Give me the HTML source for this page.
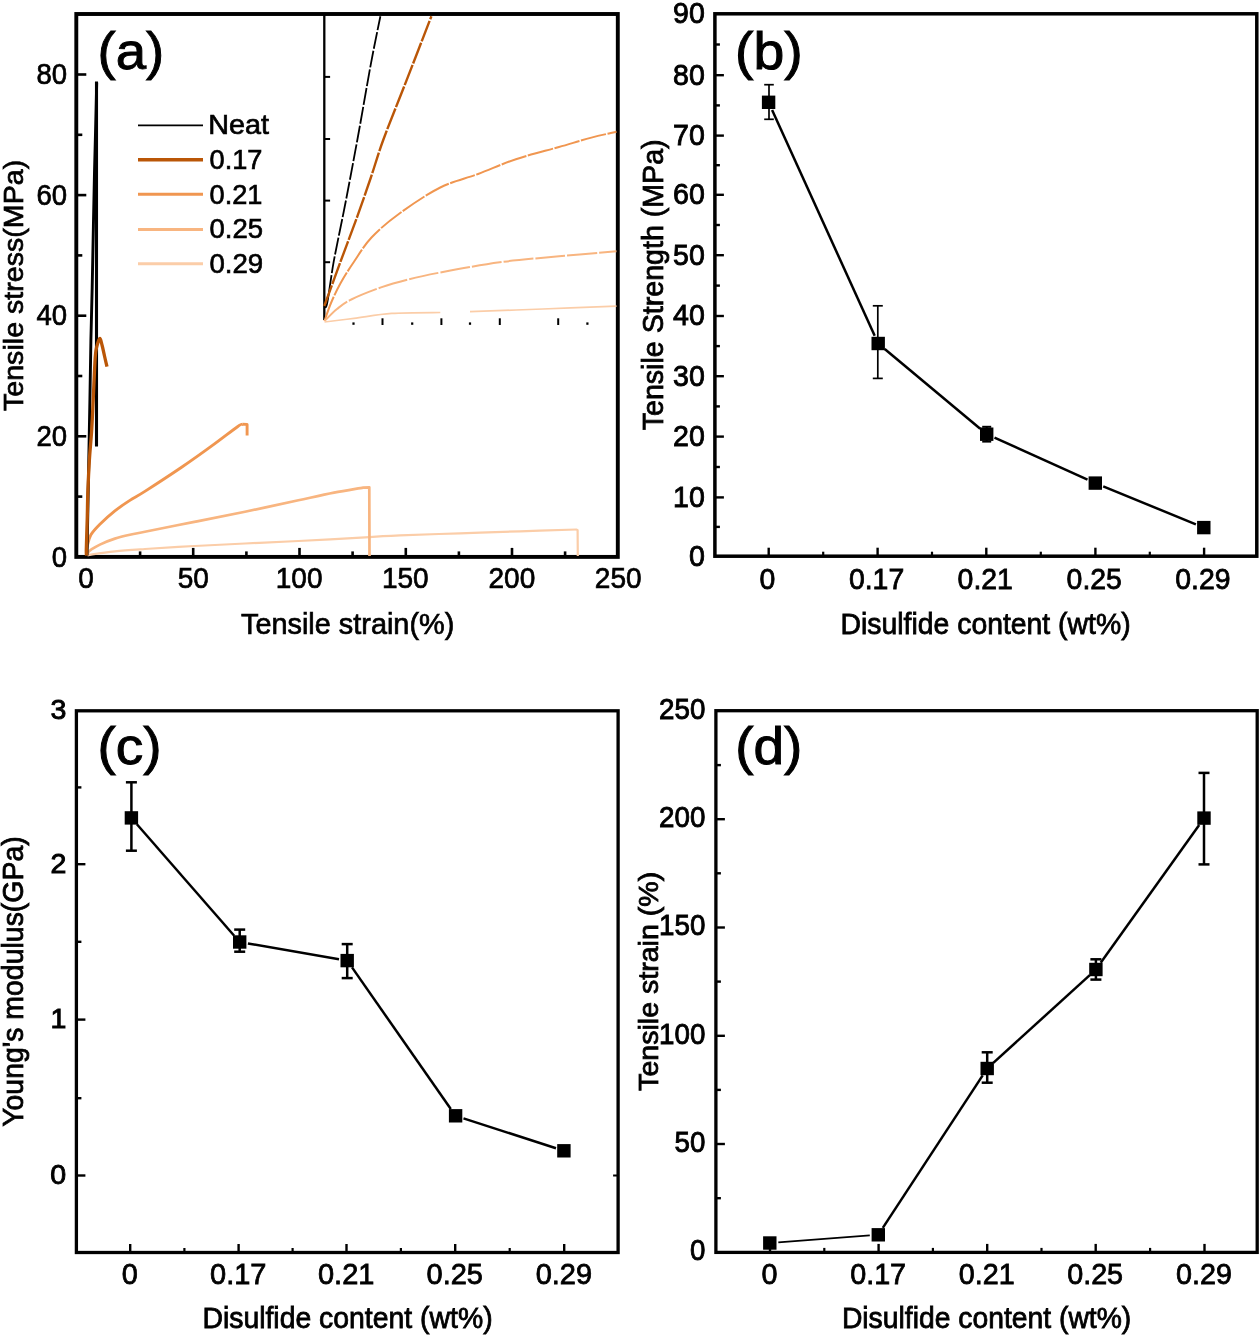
<!DOCTYPE html>
<html lang="en"><head><meta charset="utf-8"><title>Figure</title>
<style>html,body{margin:0;padding:0;background:#fff}svg{display:block;filter:blur(0.3px)}</style></head>
<body>
<svg width="1260" height="1335" viewBox="0 0 1260 1335" font-family='"Liberation Sans", Arial, sans-serif' fill="#000">
<rect width="1260" height="1335" fill="#fff"/>
<rect x="76.3" y="14.0" width="541.5" height="542.9" fill="none" stroke="#000" stroke-width="3.9"/>
<line x1="76.3" y1="436.3" x2="86.3" y2="436.3" stroke="#000" stroke-width="2.6" />
<line x1="76.3" y1="315.7" x2="86.3" y2="315.7" stroke="#000" stroke-width="2.6" />
<line x1="76.3" y1="195.1" x2="86.3" y2="195.1" stroke="#000" stroke-width="2.6" />
<line x1="76.3" y1="74.5" x2="86.3" y2="74.5" stroke="#000" stroke-width="2.6" />
<line x1="76.3" y1="496.6" x2="82.3" y2="496.6" stroke="#000" stroke-width="2.6" />
<line x1="76.3" y1="376.0" x2="82.3" y2="376.0" stroke="#000" stroke-width="2.6" />
<line x1="76.3" y1="255.4" x2="82.3" y2="255.4" stroke="#000" stroke-width="2.6" />
<line x1="76.3" y1="134.8" x2="82.3" y2="134.8" stroke="#000" stroke-width="2.6" />
<text x="51.8" y="566.5" font-size="29" text-anchor="start" textLength="15.3" lengthAdjust="spacingAndGlyphs"  stroke="#000" stroke-width="0.7">0</text>
<text x="36.5" y="445.9" font-size="29" text-anchor="start" textLength="30.6" lengthAdjust="spacingAndGlyphs"  stroke="#000" stroke-width="0.7">20</text>
<text x="36.5" y="325.3" font-size="29" text-anchor="start" textLength="30.6" lengthAdjust="spacingAndGlyphs"  stroke="#000" stroke-width="0.7">40</text>
<text x="36.5" y="204.7" font-size="29" text-anchor="start" textLength="30.6" lengthAdjust="spacingAndGlyphs"  stroke="#000" stroke-width="0.7">60</text>
<text x="36.5" y="84.1" font-size="29" text-anchor="start" textLength="30.6" lengthAdjust="spacingAndGlyphs"  stroke="#000" stroke-width="0.7">80</text>
<line x1="193.2" y1="556.9" x2="193.2" y2="547.9" stroke="#000" stroke-width="2.6" />
<line x1="299.5" y1="556.9" x2="299.5" y2="547.9" stroke="#000" stroke-width="2.6" />
<line x1="405.8" y1="556.9" x2="405.8" y2="547.9" stroke="#000" stroke-width="2.6" />
<line x1="512.0" y1="556.9" x2="512.0" y2="547.9" stroke="#000" stroke-width="2.6" />
<line x1="140.1" y1="556.9" x2="140.1" y2="551.4" stroke="#000" stroke-width="2.6" />
<line x1="246.4" y1="556.9" x2="246.4" y2="551.4" stroke="#000" stroke-width="2.6" />
<line x1="352.6" y1="556.9" x2="352.6" y2="551.4" stroke="#000" stroke-width="2.6" />
<line x1="458.9" y1="556.9" x2="458.9" y2="551.4" stroke="#000" stroke-width="2.6" />
<line x1="565.1" y1="556.9" x2="565.1" y2="551.4" stroke="#000" stroke-width="2.6" />
<text x="78.2" y="588.3" font-size="29.5" text-anchor="start" textLength="15.6" lengthAdjust="spacingAndGlyphs"  stroke="#000" stroke-width="0.7">0</text>
<text x="177.7" y="588.3" font-size="29.5" text-anchor="start" textLength="31.2" lengthAdjust="spacingAndGlyphs"  stroke="#000" stroke-width="0.7">50</text>
<text x="275.7" y="588.3" font-size="29.5" text-anchor="start" textLength="46.8" lengthAdjust="spacingAndGlyphs"  stroke="#000" stroke-width="0.7">100</text>
<text x="381.9" y="588.3" font-size="29.5" text-anchor="start" textLength="46.8" lengthAdjust="spacingAndGlyphs"  stroke="#000" stroke-width="0.7">150</text>
<text x="488.5" y="588.3" font-size="29.5" text-anchor="start" textLength="46.8" lengthAdjust="spacingAndGlyphs"  stroke="#000" stroke-width="0.7">200</text>
<text x="594.8" y="588.3" font-size="29.5" text-anchor="start" textLength="46.8" lengthAdjust="spacingAndGlyphs"  stroke="#000" stroke-width="0.7">250</text>
<path d="M87.5,555.5 C88.3,555.3 87.8,555.0 92.4,554.3 C97.0,553.6 106.2,552.2 114.9,551.3 C123.7,550.4 131.7,549.9 144.9,549.0 C158.1,548.1 177.6,546.9 194.3,546.0 C211.0,545.1 227.7,544.3 245.0,543.5 C262.4,542.7 277.6,542.1 298.4,541.0 C319.1,539.9 352.6,538.1 369.5,537.1 C386.4,536.1 384.9,535.9 400.0,535.3 C415.1,534.7 440.0,534.0 460.0,533.3 C480.0,532.6 500.6,531.9 520.0,531.3 C539.4,530.7 567.1,529.8 576.5,529.5" fill="none" stroke="#FBCDA8" stroke-width="2.2" stroke-linejoin="round" />
<polyline points="576.0,529.5 577.6,530.0 577.8,556.0" fill="none" stroke="#FBCDA8" stroke-width="2.2" stroke-linejoin="round" />
<path d="M87.0,555.5 C87.2,554.9 87.8,553.0 88.5,552.0 C89.2,551.0 89.0,551.0 90.9,549.8 C92.8,548.6 95.9,546.5 99.9,544.6 C103.9,542.7 109.9,540.2 114.9,538.6 C119.9,537.0 124.9,535.9 129.9,534.8 C134.9,533.7 134.2,533.9 144.9,531.8 C155.6,529.6 177.6,525.2 194.3,521.9 C211.0,518.5 227.7,515.3 245.0,511.7 C262.4,508.1 283.6,503.5 298.4,500.3 C313.2,497.1 323.2,494.8 334.0,492.7 C344.8,490.6 358.3,488.5 363.2,487.6" fill="none" stroke="#F8B580" stroke-width="2.7" stroke-linejoin="round" />
<polyline points="363.0,487.6 369.3,487.4 369.5,556.0" fill="none" stroke="#F8B580" stroke-width="2.7" stroke-linejoin="round" />
<path d="M86.8,555.0 C86.9,553.3 86.9,548.4 87.6,545.0 C88.3,541.6 88.9,538.2 90.9,534.8 C93.0,531.3 95.9,528.3 99.9,524.3 C103.9,520.3 109.9,514.9 114.9,510.9 C119.9,506.9 124.9,503.6 129.9,500.4 C134.9,497.1 136.3,496.9 144.9,491.4 C153.5,485.9 170.4,474.9 181.6,467.3 C192.8,459.7 202.8,452.5 212.1,445.7 C221.4,438.9 232.4,430.3 237.5,426.7 C242.6,423.1 241.7,424.5 242.5,424.1" fill="none" stroke="#F09650" stroke-width="2.9" stroke-linejoin="round" />
<polyline points="242.3,424.2 247.1,424.4 247.1,435.6" fill="none" stroke="#F09650" stroke-width="2.9" stroke-linejoin="round" />
<path d="M87.0,555.5 C87.3,541.2 88.1,495.9 88.6,470.0 C89.1,444.1 89.5,421.7 89.9,400.0 C90.3,378.3 90.5,358.8 90.9,340.0 C91.3,321.2 91.8,306.0 92.2,287.0 C92.6,268.0 93.0,245.2 93.4,226.0 C93.8,206.8 94.1,188.8 94.5,172.0 C94.9,155.2 95.3,139.9 95.7,125.0 C96.1,110.1 96.5,89.8 96.7,82.7" fill="none" stroke="#000" stroke-width="2.9" stroke-linejoin="round" />
<line x1="96.5" y1="81.5" x2="96.5" y2="446.5" stroke="#000" stroke-width="3.1" />
<path d="M86.6,555.5 C86.5,554.5 86.2,555.8 86.3,549.8 C86.4,543.8 86.9,529.8 87.2,519.8 C87.5,509.8 87.5,499.9 87.9,489.9 C88.3,479.9 88.8,469.9 89.4,459.9 C90.0,449.9 91.1,440.0 91.7,430.0 C92.3,420.0 92.6,412.2 93.2,400.0 C93.8,387.8 94.6,365.9 95.3,356.6 C96.0,347.3 96.7,347.0 97.5,344.0 C98.3,341.0 99.2,338.2 99.9,338.4 C100.7,338.6 101.2,342.1 102.0,345.0 C102.8,347.9 103.7,352.4 104.5,356.0 C105.3,359.6 106.6,364.9 107.0,366.7" fill="none" stroke="#BA5607" stroke-width="3.3" stroke-linejoin="round" />
<text x="97.5" y="69.2" font-size="52" text-anchor="start" textLength="66.8" lengthAdjust="spacingAndGlyphs"  stroke="#000" stroke-width="0.9">(a)</text>
<text x="23.2" y="411.0" font-size="27.5" text-anchor="start" textLength="251.2" lengthAdjust="spacingAndGlyphs" transform="rotate(-90 23.2 411.0)"  stroke="#000" stroke-width="0.7">Tensile stress(MPa)</text>
<text x="241.0" y="633.6" font-size="29.5" text-anchor="start" textLength="213.3" lengthAdjust="spacingAndGlyphs"  stroke="#000" stroke-width="0.7">Tensile strain(%)</text>
<line x1="138.0" y1="125.4" x2="203.0" y2="125.4" stroke="#000" stroke-width="1.7" />
<line x1="138.0" y1="159.7" x2="203.0" y2="159.7" stroke="#BA5607" stroke-width="3.4" />
<line x1="138.0" y1="194.2" x2="203.0" y2="194.2" stroke="#F09650" stroke-width="3.0" />
<line x1="138.0" y1="229.6" x2="203.0" y2="229.6" stroke="#F8B580" stroke-width="3.0" />
<line x1="138.0" y1="263.7" x2="203.0" y2="263.7" stroke="#FBCDA8" stroke-width="3.0" />
<text x="208.3" y="134.3" font-size="28.5" text-anchor="start" textLength="60.8" lengthAdjust="spacingAndGlyphs"  stroke="#000" stroke-width="0.7">Neat</text>
<text x="209.6" y="168.8" font-size="28.5" text-anchor="start" textLength="52.9" lengthAdjust="spacingAndGlyphs"  stroke="#000" stroke-width="0.7">0.17</text>
<text x="209.6" y="203.6" font-size="28.5" text-anchor="start" textLength="52.9" lengthAdjust="spacingAndGlyphs"  stroke="#000" stroke-width="0.7">0.21</text>
<text x="209.5" y="238.1" font-size="28.5" text-anchor="start" textLength="53.5" lengthAdjust="spacingAndGlyphs"  stroke="#000" stroke-width="0.7">0.25</text>
<text x="209.5" y="273.2" font-size="28.5" text-anchor="start" textLength="53.7" lengthAdjust="spacingAndGlyphs"  stroke="#000" stroke-width="0.7">0.29</text>
<line x1="324.3" y1="14.0" x2="324.3" y2="320.0" stroke="#000" stroke-width="2.3" />
<line x1="324.3" y1="76.9" x2="330.1" y2="76.9" stroke="#000" stroke-width="2.0" />
<line x1="324.3" y1="139.0" x2="330.1" y2="139.0" stroke="#000" stroke-width="2.0" />
<line x1="324.3" y1="200.6" x2="330.1" y2="200.6" stroke="#000" stroke-width="2.0" />
<line x1="324.3" y1="262.2" x2="330.1" y2="262.2" stroke="#000" stroke-width="2.0" />
<line x1="382.5" y1="318.3" x2="382.5" y2="325.0" stroke="#000" stroke-width="2.0" />
<line x1="441.4" y1="318.3" x2="441.4" y2="325.0" stroke="#000" stroke-width="2.0" />
<line x1="499.8" y1="318.3" x2="499.8" y2="325.0" stroke="#000" stroke-width="2.0" />
<line x1="558.2" y1="318.3" x2="558.2" y2="325.0" stroke="#000" stroke-width="2.0" />
<line x1="353.5" y1="322.4" x2="353.5" y2="324.8" stroke="#000" stroke-width="2.2" />
<line x1="412.2" y1="322.4" x2="412.2" y2="324.8" stroke="#000" stroke-width="2.2" />
<line x1="470.0" y1="322.4" x2="470.0" y2="324.8" stroke="#000" stroke-width="2.2" />
<line x1="587.4" y1="322.4" x2="587.4" y2="324.8" stroke="#000" stroke-width="2.2" />
<path d="M324.3,304.5 C324.8,304.4 325.4,311.1 327.0,304.0 C328.6,296.9 330.8,277.7 333.7,261.7 C336.6,245.7 340.5,228.2 344.5,207.8 C348.5,187.4 353.1,162.8 357.5,139.0 C361.9,115.2 366.9,85.3 370.7,64.8 C374.5,44.3 378.8,24.3 380.4,16.2" fill="none" stroke="#000" stroke-width="1.8" stroke-linejoin="round" stroke-dasharray="17 2"/>
<path d="M324.3,306.0 C327.0,298.6 335.0,276.7 340.5,261.7 C346.0,246.7 352.5,229.8 357.5,215.9 C362.5,202.0 366.3,190.8 370.7,178.0 C375.1,165.2 377.4,155.8 383.6,139.0 C389.8,122.2 399.9,97.4 407.9,76.9 C415.9,56.4 427.5,26.3 431.4,16.2" fill="none" stroke="#BA5607" stroke-width="2.4" stroke-linejoin="round" stroke-dasharray="22 1.5"/>
<path d="M324.5,321.0 C325.6,318.0 328.3,309.3 331.0,303.0 C333.7,296.7 336.7,290.2 340.5,283.3 C344.3,276.4 348.8,269.3 354.0,261.7 C359.2,254.1 363.9,245.6 371.5,237.5 C379.1,229.4 388.3,221.5 399.8,213.2 C411.3,204.9 427.2,194.0 440.3,187.5 C453.4,181.0 465.5,178.7 478.1,174.0 C490.7,169.3 502.4,163.7 515.9,159.2 C529.4,154.7 546.4,150.6 559.0,147.0 C571.6,143.4 581.8,140.1 591.4,137.6 C601.0,135.1 612.3,132.8 616.5,131.8" fill="none" stroke="#F09650" stroke-width="2.0" stroke-linejoin="round" stroke-dasharray="26 1.5"/>
<path d="M324.5,321.0 C326.6,319.0 332.5,312.6 337.0,309.0 C341.5,305.4 344.0,303.1 351.3,299.5 C358.6,295.9 371.6,290.7 381.0,287.4 C390.4,284.1 398.0,282.0 407.9,279.5 C417.8,277.0 425.0,275.4 440.3,272.5 C455.6,269.6 479.9,265.0 499.7,262.3 C519.5,259.6 539.5,258.1 559.0,256.3 C578.5,254.5 606.9,252.1 616.5,251.3" fill="none" stroke="#F8B580" stroke-width="2.0" stroke-linejoin="round" stroke-dasharray="30 2"/>
<path d="M324.5,322.0 C329.4,321.4 342.8,319.8 354.0,318.4 C365.2,317.0 377.3,314.4 391.7,313.4 C406.1,312.4 432.2,312.6 440.3,312.5" fill="none" stroke="#FBCDA8" stroke-width="1.7" stroke-linejoin="round" />
<path d="M470.0,311.7 C482.1,311.2 518.5,309.9 542.9,309.0 C567.3,308.1 604.2,306.7 616.5,306.2" fill="none" stroke="#FBCDA8" stroke-width="1.7" stroke-linejoin="round" />
<rect x="714.9" y="13.8" width="541.9" height="542.4" fill="none" stroke="#000" stroke-width="3.5"/>
<line x1="714.9" y1="497.4" x2="723.9" y2="497.4" stroke="#000" stroke-width="2.4" />
<line x1="714.9" y1="436.6" x2="723.9" y2="436.6" stroke="#000" stroke-width="2.4" />
<line x1="714.9" y1="376.2" x2="723.9" y2="376.2" stroke="#000" stroke-width="2.4" />
<line x1="714.9" y1="316.0" x2="723.9" y2="316.0" stroke="#000" stroke-width="2.4" />
<line x1="714.9" y1="255.2" x2="723.9" y2="255.2" stroke="#000" stroke-width="2.4" />
<line x1="714.9" y1="194.8" x2="723.9" y2="194.8" stroke="#000" stroke-width="2.4" />
<line x1="714.9" y1="135.6" x2="723.9" y2="135.6" stroke="#000" stroke-width="2.4" />
<line x1="714.9" y1="75.2" x2="723.9" y2="75.2" stroke="#000" stroke-width="2.4" />
<line x1="714.9" y1="526.9" x2="719.9" y2="526.9" stroke="#000" stroke-width="2.4" />
<line x1="714.9" y1="467.0" x2="719.9" y2="467.0" stroke="#000" stroke-width="2.4" />
<line x1="714.9" y1="406.4" x2="719.9" y2="406.4" stroke="#000" stroke-width="2.4" />
<line x1="714.9" y1="346.1" x2="719.9" y2="346.1" stroke="#000" stroke-width="2.4" />
<line x1="714.9" y1="285.6" x2="719.9" y2="285.6" stroke="#000" stroke-width="2.4" />
<line x1="714.9" y1="225.0" x2="719.9" y2="225.0" stroke="#000" stroke-width="2.4" />
<line x1="714.9" y1="165.2" x2="719.9" y2="165.2" stroke="#000" stroke-width="2.4" />
<line x1="714.9" y1="105.4" x2="719.9" y2="105.4" stroke="#000" stroke-width="2.4" />
<line x1="714.9" y1="44.5" x2="719.9" y2="44.5" stroke="#000" stroke-width="2.4" />
<text x="688.9" y="565.7" font-size="30" text-anchor="start" textLength="15.9" lengthAdjust="spacingAndGlyphs"  stroke="#000" stroke-width="0.9">0</text>
<text x="673.1" y="506.7" font-size="30" text-anchor="start" textLength="31.7" lengthAdjust="spacingAndGlyphs"  stroke="#000" stroke-width="0.9">10</text>
<text x="673.1" y="445.9" font-size="30" text-anchor="start" textLength="31.7" lengthAdjust="spacingAndGlyphs"  stroke="#000" stroke-width="0.9">20</text>
<text x="673.1" y="385.5" font-size="30" text-anchor="start" textLength="31.7" lengthAdjust="spacingAndGlyphs"  stroke="#000" stroke-width="0.9">30</text>
<text x="673.1" y="325.3" font-size="30" text-anchor="start" textLength="31.7" lengthAdjust="spacingAndGlyphs"  stroke="#000" stroke-width="0.9">40</text>
<text x="673.1" y="264.5" font-size="30" text-anchor="start" textLength="31.7" lengthAdjust="spacingAndGlyphs"  stroke="#000" stroke-width="0.9">50</text>
<text x="673.1" y="204.1" font-size="30" text-anchor="start" textLength="31.7" lengthAdjust="spacingAndGlyphs"  stroke="#000" stroke-width="0.9">60</text>
<text x="673.1" y="144.9" font-size="30" text-anchor="start" textLength="31.7" lengthAdjust="spacingAndGlyphs"  stroke="#000" stroke-width="0.9">70</text>
<text x="673.1" y="84.5" font-size="30" text-anchor="start" textLength="31.7" lengthAdjust="spacingAndGlyphs"  stroke="#000" stroke-width="0.9">80</text>
<text x="673.1" y="23.1" font-size="30" text-anchor="start" textLength="31.7" lengthAdjust="spacingAndGlyphs"  stroke="#000" stroke-width="0.9">90</text>
<line x1="768.7" y1="556.2" x2="768.7" y2="547.7" stroke="#000" stroke-width="2.4" />
<line x1="877.6" y1="556.2" x2="877.6" y2="547.7" stroke="#000" stroke-width="2.4" />
<line x1="986.3" y1="556.2" x2="986.3" y2="547.7" stroke="#000" stroke-width="2.4" />
<line x1="1095.4" y1="556.2" x2="1095.4" y2="547.7" stroke="#000" stroke-width="2.4" />
<line x1="1204.1" y1="556.2" x2="1204.1" y2="547.7" stroke="#000" stroke-width="2.4" />
<line x1="823.2" y1="556.2" x2="823.2" y2="551.7" stroke="#000" stroke-width="2.2" />
<line x1="932.0" y1="556.2" x2="932.0" y2="551.7" stroke="#000" stroke-width="2.2" />
<line x1="1040.8" y1="556.2" x2="1040.8" y2="551.7" stroke="#000" stroke-width="2.2" />
<line x1="1149.8" y1="556.2" x2="1149.8" y2="551.7" stroke="#000" stroke-width="2.2" />
<text x="759.6" y="588.6" font-size="29" text-anchor="start" textLength="15.8" lengthAdjust="spacingAndGlyphs"  stroke="#000" stroke-width="0.8">0</text>
<text x="848.9" y="588.6" font-size="29" text-anchor="start" textLength="55.3" lengthAdjust="spacingAndGlyphs"  stroke="#000" stroke-width="0.8">0.17</text>
<text x="957.6" y="588.6" font-size="29" text-anchor="start" textLength="55.3" lengthAdjust="spacingAndGlyphs"  stroke="#000" stroke-width="0.8">0.21</text>
<text x="1066.6" y="588.6" font-size="29" text-anchor="start" textLength="55.3" lengthAdjust="spacingAndGlyphs"  stroke="#000" stroke-width="0.8">0.25</text>
<text x="1175.3" y="588.6" font-size="29" text-anchor="start" textLength="55.3" lengthAdjust="spacingAndGlyphs"  stroke="#000" stroke-width="0.8">0.29</text>
<line x1="772.1" y1="110.0" x2="874.7" y2="335.8" stroke="#000" stroke-width="2.5" />
<line x1="884.7" y1="349.0" x2="980.2" y2="428.7" stroke="#000" stroke-width="2.5" />
<line x1="994.5" y1="437.7" x2="1087.5" y2="479.6" stroke="#000" stroke-width="2.5" />
<line x1="1103.2" y1="486.3" x2="1195.9" y2="524.4" stroke="#000" stroke-width="2.5" />
<line x1="769.0" y1="84.7" x2="769.0" y2="119.3" stroke="#000" stroke-width="1.7" />
<line x1="764.2" y1="84.7" x2="773.8" y2="84.7" stroke="#000" stroke-width="1.7" />
<line x1="764.2" y1="119.3" x2="773.8" y2="119.3" stroke="#000" stroke-width="1.7" />
<line x1="877.8" y1="305.8" x2="877.8" y2="378.4" stroke="#000" stroke-width="1.7" />
<line x1="872.8" y1="305.8" x2="882.8" y2="305.8" stroke="#000" stroke-width="1.7" />
<line x1="872.8" y1="378.4" x2="882.8" y2="378.4" stroke="#000" stroke-width="1.7" />
<line x1="986.7" y1="426.8" x2="986.7" y2="441.6" stroke="#000" stroke-width="2.0" />
<line x1="982.2" y1="426.8" x2="991.2" y2="426.8" stroke="#000" stroke-width="2.0" />
<line x1="982.2" y1="441.6" x2="991.2" y2="441.6" stroke="#000" stroke-width="2.0" />
<rect x="761.9" y="95.6" width="13.4" height="13.4" fill="#000"/>
<rect x="871.5" y="336.8" width="13.4" height="13.4" fill="#000"/>
<rect x="980.0" y="427.5" width="13.4" height="13.4" fill="#000"/>
<rect x="1088.6" y="476.4" width="13.4" height="13.4" fill="#000"/>
<rect x="1197.1" y="520.9" width="13.4" height="13.4" fill="#000"/>
<text x="735.0" y="68.6" font-size="52.5" text-anchor="start" textLength="67.7" lengthAdjust="spacingAndGlyphs"  stroke="#000" stroke-width="1.0">(b)</text>
<text x="663.5" y="430.3" font-size="29.5" text-anchor="start" textLength="290.9" lengthAdjust="spacingAndGlyphs" transform="rotate(-90 663.5 430.3)"  stroke="#000" stroke-width="0.8">Tensile Strength (MPa)</text>
<text x="840.6" y="633.5" font-size="30" text-anchor="start" textLength="290.0" lengthAdjust="spacingAndGlyphs"  stroke="#000" stroke-width="0.8">Disulfide content (wt%)</text>
<rect x="76.4" y="710.8" width="541.7" height="541.7" fill="none" stroke="#000" stroke-width="3.3"/>
<line x1="76.4" y1="1175.5" x2="85.4" y2="1175.5" stroke="#000" stroke-width="2.4" />
<line x1="76.4" y1="1019.6" x2="85.4" y2="1019.6" stroke="#000" stroke-width="2.4" />
<line x1="76.4" y1="864.2" x2="85.4" y2="864.2" stroke="#000" stroke-width="2.4" />
<line x1="76.4" y1="1098.2" x2="81.4" y2="1098.2" stroke="#000" stroke-width="2.4" />
<line x1="76.4" y1="941.8" x2="81.4" y2="941.8" stroke="#000" stroke-width="2.4" />
<line x1="76.4" y1="787.4" x2="81.4" y2="787.4" stroke="#000" stroke-width="2.4" />
<line x1="613.1" y1="1175.5" x2="618.1" y2="1175.5" stroke="#000" stroke-width="2.0" />
<text x="50.2" y="1183.8" font-size="27" text-anchor="start" textLength="15.9" lengthAdjust="spacingAndGlyphs"  stroke="#000" stroke-width="0.9">0</text>
<text x="50.5" y="1027.9" font-size="27" text-anchor="start" textLength="15.9" lengthAdjust="spacingAndGlyphs"  stroke="#000" stroke-width="0.9">1</text>
<text x="50.5" y="872.5" font-size="27" text-anchor="start" textLength="15.9" lengthAdjust="spacingAndGlyphs"  stroke="#000" stroke-width="0.9">2</text>
<text x="50.4" y="719.1" font-size="27" text-anchor="start" textLength="15.9" lengthAdjust="spacingAndGlyphs"  stroke="#000" stroke-width="0.9">3</text>
<line x1="130.2" y1="1252.5" x2="130.2" y2="1244.0" stroke="#000" stroke-width="2.4" />
<line x1="238.6" y1="1252.5" x2="238.6" y2="1244.0" stroke="#000" stroke-width="2.4" />
<line x1="346.5" y1="1252.5" x2="346.5" y2="1244.0" stroke="#000" stroke-width="2.4" />
<line x1="455.2" y1="1252.5" x2="455.2" y2="1244.0" stroke="#000" stroke-width="2.4" />
<line x1="564.2" y1="1252.5" x2="564.2" y2="1244.0" stroke="#000" stroke-width="2.4" />
<line x1="184.4" y1="1252.5" x2="184.4" y2="1248.0" stroke="#000" stroke-width="2.2" />
<line x1="292.6" y1="1252.5" x2="292.6" y2="1248.0" stroke="#000" stroke-width="2.2" />
<line x1="400.9" y1="1252.5" x2="400.9" y2="1248.0" stroke="#000" stroke-width="2.2" />
<line x1="509.7" y1="1252.5" x2="509.7" y2="1248.0" stroke="#000" stroke-width="2.2" />
<text x="121.8" y="1284.0" font-size="29" text-anchor="start" textLength="16.1" lengthAdjust="spacingAndGlyphs"  stroke="#000" stroke-width="0.8">0</text>
<text x="210.1" y="1284.0" font-size="29" text-anchor="start" textLength="56.4" lengthAdjust="spacingAndGlyphs"  stroke="#000" stroke-width="0.8">0.17</text>
<text x="318.0" y="1284.0" font-size="29" text-anchor="start" textLength="56.4" lengthAdjust="spacingAndGlyphs"  stroke="#000" stroke-width="0.8">0.21</text>
<text x="426.6" y="1284.0" font-size="29" text-anchor="start" textLength="56.4" lengthAdjust="spacingAndGlyphs"  stroke="#000" stroke-width="0.8">0.25</text>
<text x="535.7" y="1284.0" font-size="29" text-anchor="start" textLength="56.4" lengthAdjust="spacingAndGlyphs"  stroke="#000" stroke-width="0.8">0.29</text>
<line x1="136.9" y1="824.2" x2="234.2" y2="935.7" stroke="#000" stroke-width="2.5" />
<line x1="247.9" y1="943.4" x2="339.0" y2="959.2" stroke="#000" stroke-width="2.5" />
<line x1="352.0" y1="967.4" x2="450.8" y2="1109.0" stroke="#000" stroke-width="2.5" />
<line x1="463.5" y1="1118.4" x2="556.0" y2="1148.2" stroke="#000" stroke-width="2.5" />
<line x1="131.4" y1="782.3" x2="131.4" y2="850.7" stroke="#000" stroke-width="2.5" />
<line x1="125.9" y1="782.3" x2="136.9" y2="782.3" stroke="#000" stroke-width="2.5" />
<line x1="125.9" y1="850.7" x2="136.9" y2="850.7" stroke="#000" stroke-width="2.5" />
<line x1="239.7" y1="929.6" x2="239.7" y2="951.7" stroke="#000" stroke-width="2.5" />
<line x1="234.2" y1="929.6" x2="245.2" y2="929.6" stroke="#000" stroke-width="2.5" />
<line x1="234.2" y1="951.7" x2="245.2" y2="951.7" stroke="#000" stroke-width="2.5" />
<line x1="347.2" y1="944.1" x2="347.2" y2="978.1" stroke="#000" stroke-width="2.5" />
<line x1="341.7" y1="944.1" x2="352.7" y2="944.1" stroke="#000" stroke-width="2.5" />
<line x1="341.7" y1="978.1" x2="352.7" y2="978.1" stroke="#000" stroke-width="2.5" />
<rect x="124.7" y="811.2" width="13.4" height="13.4" fill="#000"/>
<rect x="233.0" y="935.3" width="13.4" height="13.4" fill="#000"/>
<rect x="340.5" y="953.9" width="13.4" height="13.4" fill="#000"/>
<rect x="448.9" y="1109.1" width="13.4" height="13.4" fill="#000"/>
<rect x="557.2" y="1144.1" width="13.4" height="13.4" fill="#000"/>
<text x="97.5" y="763.8" font-size="52.5" text-anchor="start" textLength="64.1" lengthAdjust="spacingAndGlyphs"  stroke="#000" stroke-width="1.0">(c)</text>
<text x="23.5" y="1126.8" font-size="29" text-anchor="start" textLength="290.5" lengthAdjust="spacingAndGlyphs" transform="rotate(-90 23.5 1126.8)"  stroke="#000" stroke-width="0.8">Young's modulus(GPa)</text>
<text x="202.4" y="1328.4" font-size="29.5" text-anchor="start" textLength="290.2" lengthAdjust="spacingAndGlyphs"  stroke="#000" stroke-width="0.8">Disulfide content (wt%)</text>
<rect x="715.9" y="710.7" width="541.3" height="541.7" fill="none" stroke="#000" stroke-width="3.3"/>
<line x1="715.9" y1="1144.0" x2="724.9" y2="1144.0" stroke="#000" stroke-width="2.4" />
<line x1="715.9" y1="1035.8" x2="724.9" y2="1035.8" stroke="#000" stroke-width="2.4" />
<line x1="715.9" y1="927.5" x2="724.9" y2="927.5" stroke="#000" stroke-width="2.4" />
<line x1="715.9" y1="819.2" x2="724.9" y2="819.2" stroke="#000" stroke-width="2.4" />
<line x1="715.9" y1="1198.2" x2="720.9" y2="1198.2" stroke="#000" stroke-width="2.4" />
<line x1="715.9" y1="1089.9" x2="720.9" y2="1089.9" stroke="#000" stroke-width="2.4" />
<line x1="715.9" y1="981.6" x2="720.9" y2="981.6" stroke="#000" stroke-width="2.4" />
<line x1="715.9" y1="873.3" x2="720.9" y2="873.3" stroke="#000" stroke-width="2.4" />
<line x1="715.9" y1="765.1" x2="720.9" y2="765.1" stroke="#000" stroke-width="2.4" />
<text x="689.9" y="1260.2" font-size="29.5" text-anchor="start" textLength="15.4" lengthAdjust="spacingAndGlyphs"  stroke="#000" stroke-width="0.9">0</text>
<text x="674.5" y="1151.9" font-size="29.5" text-anchor="start" textLength="30.8" lengthAdjust="spacingAndGlyphs"  stroke="#000" stroke-width="0.9">50</text>
<text x="659.1" y="1043.7" font-size="29.5" text-anchor="start" textLength="46.3" lengthAdjust="spacingAndGlyphs"  stroke="#000" stroke-width="0.9">100</text>
<text x="659.1" y="935.4" font-size="29.5" text-anchor="start" textLength="46.3" lengthAdjust="spacingAndGlyphs"  stroke="#000" stroke-width="0.9">150</text>
<text x="659.1" y="827.1" font-size="29.5" text-anchor="start" textLength="46.3" lengthAdjust="spacingAndGlyphs"  stroke="#000" stroke-width="0.9">200</text>
<text x="659.1" y="718.8" font-size="29.5" text-anchor="start" textLength="46.3" lengthAdjust="spacingAndGlyphs"  stroke="#000" stroke-width="0.9">250</text>
<line x1="770.0" y1="1252.4" x2="770.0" y2="1243.9" stroke="#000" stroke-width="2.4" />
<line x1="878.6" y1="1252.4" x2="878.6" y2="1243.9" stroke="#000" stroke-width="2.4" />
<line x1="987.2" y1="1252.4" x2="987.2" y2="1243.9" stroke="#000" stroke-width="2.4" />
<line x1="1095.7" y1="1252.4" x2="1095.7" y2="1243.9" stroke="#000" stroke-width="2.4" />
<line x1="1204.5" y1="1252.4" x2="1204.5" y2="1243.9" stroke="#000" stroke-width="2.4" />
<line x1="824.3" y1="1252.4" x2="824.3" y2="1247.9" stroke="#000" stroke-width="2.2" />
<line x1="932.9" y1="1252.4" x2="932.9" y2="1247.9" stroke="#000" stroke-width="2.2" />
<line x1="1041.5" y1="1252.4" x2="1041.5" y2="1247.9" stroke="#000" stroke-width="2.2" />
<line x1="1150.1" y1="1252.4" x2="1150.1" y2="1247.9" stroke="#000" stroke-width="2.2" />
<text x="761.4" y="1284.0" font-size="29" text-anchor="start" textLength="16.0" lengthAdjust="spacingAndGlyphs"  stroke="#000" stroke-width="0.8">0</text>
<text x="850.2" y="1284.0" font-size="29" text-anchor="start" textLength="55.9" lengthAdjust="spacingAndGlyphs"  stroke="#000" stroke-width="0.8">0.17</text>
<text x="958.8" y="1284.0" font-size="29" text-anchor="start" textLength="55.9" lengthAdjust="spacingAndGlyphs"  stroke="#000" stroke-width="0.8">0.21</text>
<text x="1067.2" y="1284.0" font-size="29" text-anchor="start" textLength="55.9" lengthAdjust="spacingAndGlyphs"  stroke="#000" stroke-width="0.8">0.25</text>
<text x="1176.1" y="1284.0" font-size="29" text-anchor="start" textLength="55.9" lengthAdjust="spacingAndGlyphs"  stroke="#000" stroke-width="0.8">0.29</text>
<line x1="778.3" y1="1242.4" x2="869.8" y2="1235.4" stroke="#000" stroke-width="1.9" />
<line x1="882.8" y1="1227.9" x2="982.7" y2="1075.4" stroke="#000" stroke-width="2.5" />
<line x1="993.3" y1="1062.9" x2="1089.8" y2="975.1" stroke="#000" stroke-width="2.5" />
<line x1="1100.7" y1="962.7" x2="1199.2" y2="824.9" stroke="#000" stroke-width="2.5" />
<line x1="987.2" y1="1052.3" x2="987.2" y2="1082.7" stroke="#000" stroke-width="2.5" />
<line x1="981.7" y1="1052.3" x2="992.7" y2="1052.3" stroke="#000" stroke-width="2.5" />
<line x1="981.7" y1="1082.7" x2="992.7" y2="1082.7" stroke="#000" stroke-width="2.5" />
<line x1="1095.9" y1="959.3" x2="1095.9" y2="979.6" stroke="#000" stroke-width="2.5" />
<line x1="1090.4" y1="959.3" x2="1101.4" y2="959.3" stroke="#000" stroke-width="2.5" />
<line x1="1090.4" y1="979.6" x2="1101.4" y2="979.6" stroke="#000" stroke-width="2.5" />
<line x1="1204.0" y1="772.9" x2="1204.0" y2="864.4" stroke="#000" stroke-width="2.5" />
<line x1="1198.5" y1="772.9" x2="1209.5" y2="772.9" stroke="#000" stroke-width="2.5" />
<line x1="1198.5" y1="864.4" x2="1209.5" y2="864.4" stroke="#000" stroke-width="2.5" />
<rect x="763.1" y="1236.3" width="13.4" height="13.4" fill="#000"/>
<rect x="871.6" y="1228.1" width="13.4" height="13.4" fill="#000"/>
<rect x="980.5" y="1061.8" width="13.4" height="13.4" fill="#000"/>
<rect x="1089.2" y="962.8" width="13.4" height="13.4" fill="#000"/>
<rect x="1197.3" y="811.4" width="13.4" height="13.4" fill="#000"/>
<text x="735.2" y="763.5" font-size="52.5" text-anchor="start" textLength="67.2" lengthAdjust="spacingAndGlyphs"  stroke="#000" stroke-width="1.0">(d)</text>
<text x="657.6" y="1090.9" font-size="28" text-anchor="start" textLength="219.1" lengthAdjust="spacingAndGlyphs" transform="rotate(-90 657.6 1090.9)"  stroke="#000" stroke-width="0.8">Tensile strain (%)</text>
<text x="841.9" y="1328.4" font-size="29.5" text-anchor="start" textLength="289.4" lengthAdjust="spacingAndGlyphs"  stroke="#000" stroke-width="0.8">Disulfide content (wt%)</text>
</svg>
</body></html>
